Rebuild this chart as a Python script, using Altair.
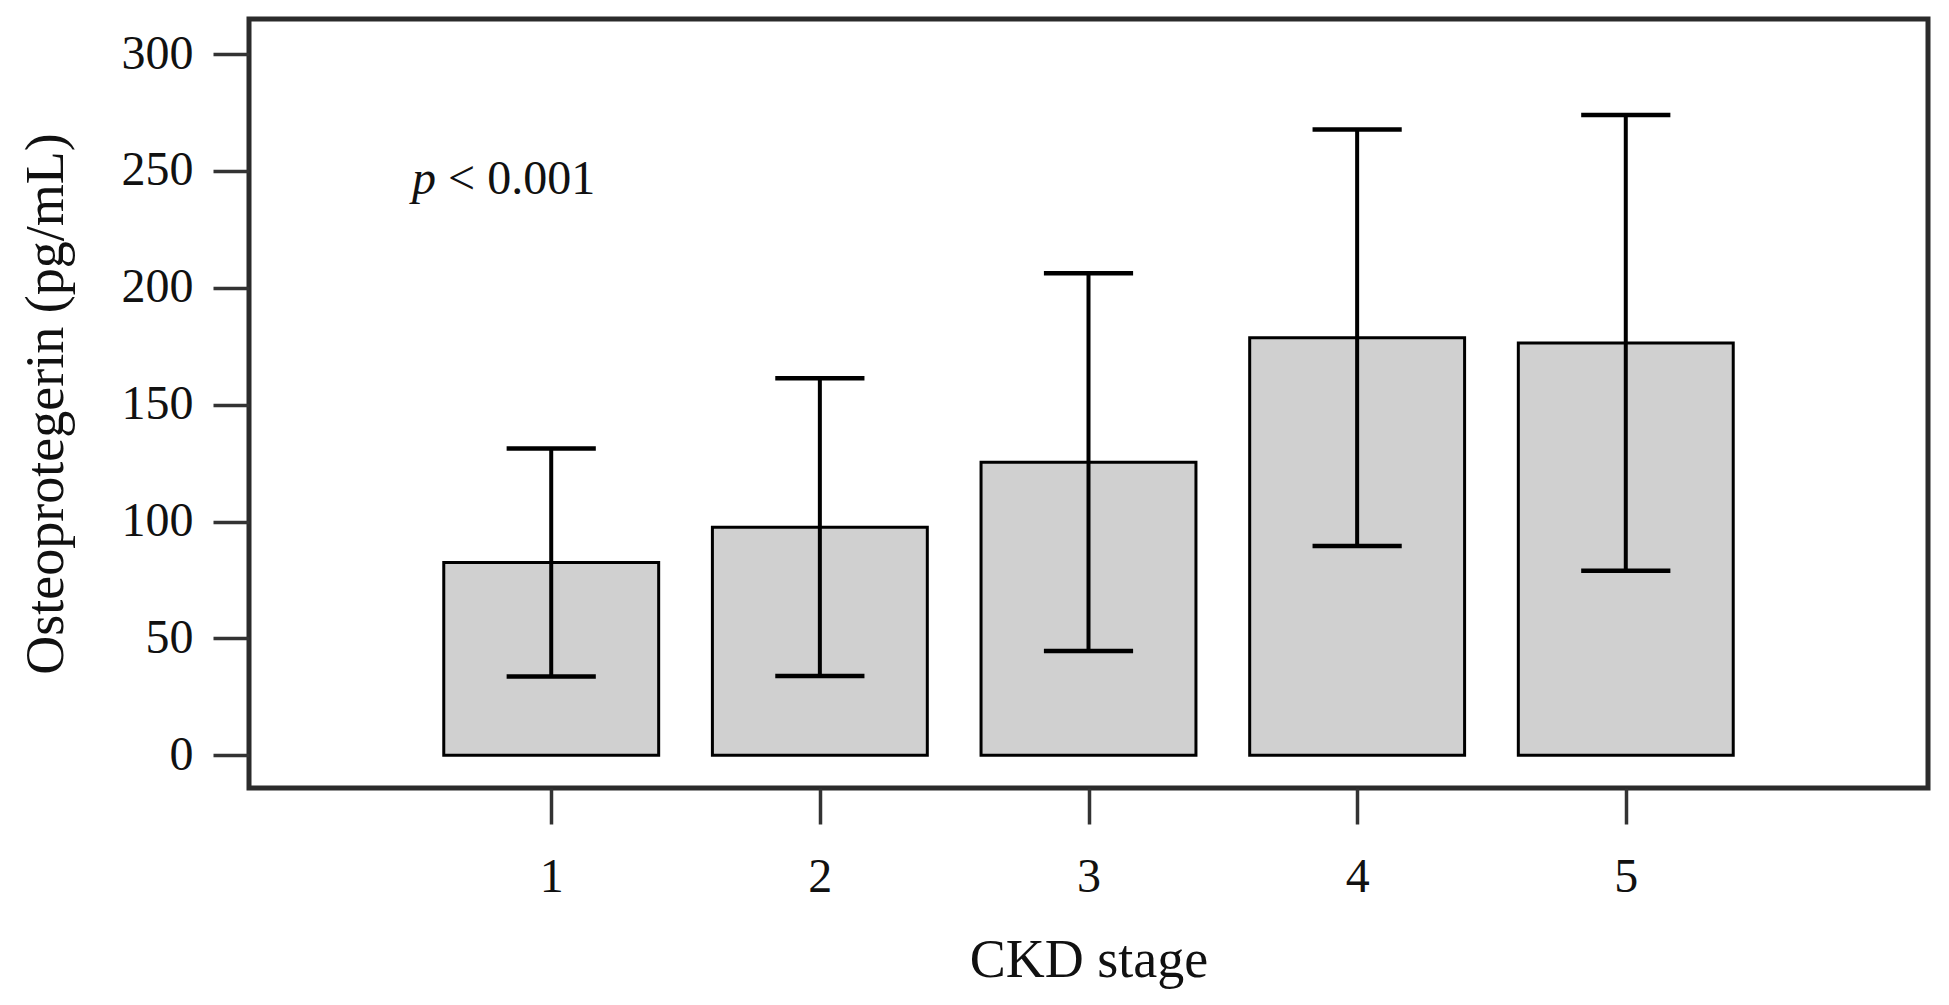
import altair as alt
import pandas as pd

# Osteoprotegerin by CKD stage: mean with +/- SD whiskers
stages = [1, 2, 3, 4, 5]
opg_mean = [82.5, 97.6, 125.4, 178.6, 176.4]
opg_sd = [48.8, 63.7, 80.8, 89.1, 97.5]
y_ticks = [0, 50, 100, 150, 200, 250, 300]

df = pd.DataFrame({"stage": stages, "mean": opg_mean, "sd": opg_sd})

FONT = "Liberation Serif"
INK = "#111111"
PLOT_W, PLOT_H = 1679, 769

x_scale = alt.Scale(domain=[-0.125, 6.125], nice=False, zero=False)
y_scale = alt.Scale(domain=[-14, 315], nice=False, zero=False)

x_axis = alt.Axis(
    values=stages, format="d", title="CKD stage", grid=False, domain=False,
    tickSize=36, tickWidth=3.5, tickColor="#333333",
    labelFont=FONT, labelFontSize=48, labelColor=INK, labelPadding=29,
    titleFont=FONT, titleFontSize=54, titleFontWeight="normal", titleColor=INK,
    titleX=PLOT_W / 2, titleY=188, titleAlign="center", titleBaseline="alphabetic",
)
y_axis = alt.Axis(
    values=y_ticks, format="d", title="Osteoprotegerin (pg/mL)", grid=False, domain=False,
    tickSize=36, tickWidth=3.5, tickColor="#333333",
    labelFont=FONT, labelFontSize=48, labelColor=INK, labelPadding=20,
    titleFont=FONT, titleFontSize=54, titleFontWeight="normal", titleColor=INK,
    titleAngle=-90, titleX=-187, titleY=PLOT_H / 2, titleAlign="center",
    titleBaseline="alphabetic",
)

base = alt.Chart(df).transform_calculate(
    left="datum.stage - 0.4",
    right="datum.stage + 0.4",
    cap_l="datum.stage - 0.166",
    cap_r="datum.stage + 0.166",
    lo="datum.mean - datum.sd",
    hi="datum.mean + datum.sd",
)

bars = base.mark_bar(fill="#d0d0d0", stroke="#000000", strokeWidth=3).encode(
    x=alt.X("left:Q", scale=x_scale, axis=x_axis),
    x2="right:Q",
    y=alt.Y("mean:Q", scale=y_scale, axis=y_axis),
    y2=alt.datum(0),
)

whisker = base.mark_rule(color="#000000", strokeWidth=4).encode(
    x=alt.X("stage:Q", scale=x_scale),
    y=alt.Y("lo:Q", scale=y_scale),
    y2="hi:Q",
)

cap_hi = base.mark_rule(color="#000000", strokeWidth=4.5).encode(
    x=alt.X("cap_l:Q", scale=x_scale),
    x2="cap_r:Q",
    y=alt.Y("hi:Q", scale=y_scale),
)

cap_lo = base.mark_rule(color="#000000", strokeWidth=4.5).encode(
    x=alt.X("cap_l:Q", scale=x_scale),
    x2="cap_r:Q",
    y=alt.Y("lo:Q", scale=y_scale),
)

# significance note
note_df = pd.DataFrame({"x": [0.482], "y": [240.3], "t": ["p"]})
note_df2 = pd.DataFrame({"x": [0.616], "y": [240.3], "t": ["< 0.001"]})

note_p = alt.Chart(note_df).mark_text(
    font=FONT, fontSize=48, fontStyle="italic", align="left",
    baseline="alphabetic", color=INK,
).encode(x=alt.X("x:Q", scale=x_scale), y=alt.Y("y:Q", scale=y_scale), text="t:N")

note_val = alt.Chart(note_df2).mark_text(
    font=FONT, fontSize=48, align="left", baseline="alphabetic", color=INK,
).encode(x=alt.X("x:Q", scale=x_scale), y=alt.Y("y:Q", scale=y_scale), text="t:N")

chart = (
    alt.layer(bars, whisker, cap_hi, cap_lo, note_p, note_val)
    .properties(
        width=PLOT_W,
        height=PLOT_H,
        autosize=alt.AutoSizeParams(type="none"),
        padding={"left": 249, "top": 19, "right": 21, "bottom": 217},
        background="#ffffff",
    )
    .configure_view(stroke="#2b2b2b", strokeWidth=5)
)

chart.save("out.html", embed_options={"renderer": "svg", "actions": False})
